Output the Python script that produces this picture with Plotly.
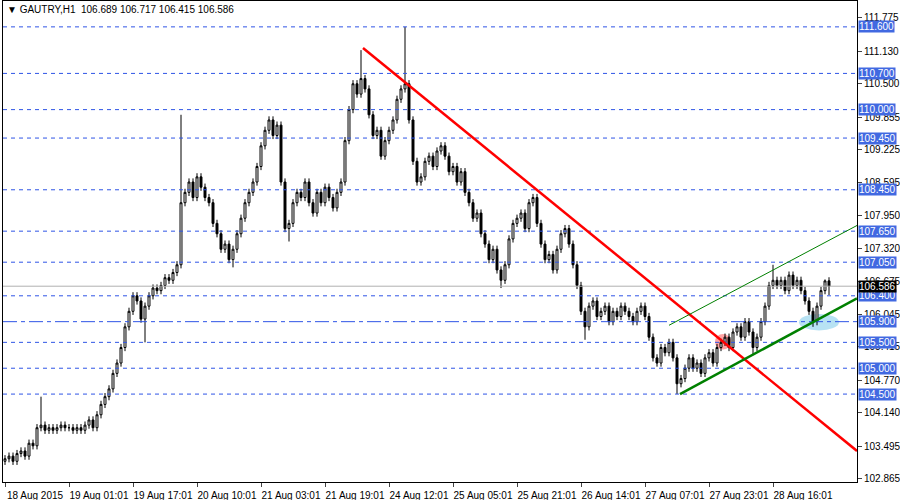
import plotly.graph_objects as go

# hourly closes, GAUTRY H1
closes = [
    103.25, 103.30, 103.20, 103.35, 103.40, 103.30, 103.55, 103.50, 103.85,
    103.90, 103.80, 103.85, 103.80, 103.85, 103.90, 103.85, 103.85, 103.80, 103.85, 103.80, 103.90, 104.00, 103.85, 104.10,
    104.30, 104.45, 104.60, 104.90, 105.10, 105.40, 105.80, 106.10, 106.40, 106.30, 105.95, 106.20,
    106.40, 106.55, 106.50, 106.60, 106.75, 106.70, 106.85, 107.00,
    108.20, 108.40, 108.60, 108.30,
    108.70, 108.50, 108.30, 108.20, 107.80, 107.60, 107.30, 107.40, 107.10, 107.30,
    107.60, 107.90, 108.20, 108.40, 108.60, 108.90, 109.30, 109.60, 109.80, 109.50, 109.70,
    108.60, 107.70, 107.80, 108.20,
    108.40, 108.30, 108.60, 108.20, 108.00, 108.40, 108.20, 108.50, 108.30, 108.10, 108.40, 108.60,
    109.40, 110.00, 110.50, 110.30, 110.60, 110.40,
    109.90, 109.50, 109.60, 109.10, 109.40, 109.60, 109.80,
    110.20, 110.40, 110.50, 109.80,
    109.00, 108.60, 108.70, 109.00, 109.10, 108.90,
    109.20, 109.30, 109.10, 108.80, 108.90, 108.60,
    108.80, 108.40, 108.20, 107.90, 108.00, 107.60, 107.40, 107.10, 107.30, 106.90, 106.70,
    107.00, 107.50, 107.80, 107.90, 108.00, 107.70, 108.20, 108.30,
    107.80, 107.40, 107.10, 107.20, 106.90, 107.30, 107.60, 107.70,
    107.40, 107.00, 106.60, 106.10, 105.80,
    106.20, 106.30, 106.00, 106.10, 106.20, 105.90, 106.10, 106.00, 106.20, 106.10, 106.00, 105.90, 106.10, 106.20, 106.00,
    105.60, 105.20, 105.10, 105.40, 105.30,
    105.50, 105.20, 104.70, 104.80, 105.00,
    105.20, 105.00, 105.10, 104.90, 105.20, 105.30, 105.10, 105.40,
    105.50, 105.60, 105.40, 105.70, 105.80, 105.60, 105.90, 105.70,
    105.40, 105.60, 105.90, 106.20, 106.60, 106.70,
    106.60, 106.70, 106.50, 106.80, 106.60, 106.70, 106.50,
    106.30, 106.10, 105.90, 106.20,
    106.50, 106.689, 106.586,
]
first_open = 103.20
# wick spikes that stand out: index -> high / low
spike_highs = {9: 104.45, 44: 109.90, 89: 111.15, 100: 111.60, 192: 107.00, 205: 106.717}
spike_lows = {35: 105.50, 57: 106.95, 71: 107.45, 124: 106.55, 145: 105.55, 168: 104.50, 187: 105.25, 202: 105.80, 206: 106.415}

time_labels = ["18 Aug 2015", "19 Aug 01:01", "19 Aug 17:01", "20 Aug 10:01", "21 Aug 03:01",
               "21 Aug 19:01", "24 Aug 12:01", "25 Aug 05:01", "25 Aug 21:01", "26 Aug 14:01",
               "27 Aug 07:01", "27 Aug 23:01", "28 Aug 16:01"]
price_ticks = [111.775, 111.130, 110.500, 109.855, 109.225, 108.595, 107.950, 107.320,
               106.675, 106.045, 105.415, 104.770, 104.140, 103.495, 102.865]
levels = [111.6, 110.7, 110.0, 109.45, 108.45, 107.65, 107.05, 106.4, 105.9, 105.5, 105.0, 104.5]
last_price = 106.586

# drawn objects: (x0, y0, x1, y1) in bar index / price
red_line = (89.5, 111.19, 213, 103.40)
green_thick = (168.75, 104.50, 213, 106.35)
green_thin = (166, 105.83, 213, 107.76)

opens = [first_open] + closes[:-1]
highs, lows = [], []
for i, (o, c) in enumerate(zip(opens, closes)):
    highs.append(spike_highs.get(i, max(o, c) + 0.07))
    lows.append(spike_lows.get(i, min(o, c) - 0.07))
xs = list(range(len(closes)))

fig = go.Figure(go.Candlestick(
    x=xs, open=opens, high=highs, low=lows, close=closes,
    increasing=dict(line=dict(color="black", width=1), fillcolor="white"),
    decreasing=dict(line=dict(color="black", width=1), fillcolor="black"),
    whiskerwidth=0, showlegend=False, hoverinfo="skip",
))

for lv in levels:
    fig.add_hline(y=lv, line=dict(color="#2f55e6", width=1,
                                  dash="14px,4px,4px,4px" if lv == 105.9 else "4px,4px"))
    fig.add_annotation(x=1, xref="paper", y=lv, yref="y", xanchor="left", text=f"{lv:.3f}",
                       showarrow=False, bgcolor="#4169e1", font=dict(color="white", size=10),
                       borderpad=0, xshift=1)
fig.add_hline(y=last_price, line=dict(color="#b0b0b0", width=1))
fig.add_annotation(x=1, xref="paper", y=last_price, yref="y", xanchor="left", text=f"{last_price:.3f}",
                   showarrow=False, bgcolor="black", font=dict(color="white", size=10), borderpad=0, xshift=1)

for (x0, y0, x1, y1), col, w in [(red_line, "red", 2.5), (green_thick, "green", 2.5), (green_thin, "green", 1)]:
    fig.add_shape(type="line", x0=x0, y0=y0, x1=x1, y1=y1, line=dict(color=col, width=w))
fig.add_shape(type="circle", x0=198.5, x1=208.5, y0=105.73, y1=106.05,
              fillcolor="rgba(135,206,235,0.6)", line_width=0, layer="below")
fig.add_shape(type="circle", x0=177.5, x1=181.5, y0=105.36, y1=105.66,
              fillcolor="rgba(255,90,90,0.55)", line_width=0, layer="below")

fig.add_annotation(x=0, xref="paper", y=1, yref="paper", xanchor="left", yanchor="top",
                   text="▼ GAUTRY,H1  106.689 106.717 106.415 106.586", showarrow=False,
                   font=dict(size=10, color="black"), xshift=2, yshift=-1)

fig.update_layout(
    width=900, height=500, margin=dict(l=3, r=43, t=1, b=18, autoexpand=False),
    paper_bgcolor="white", plot_bgcolor="white",
    font=dict(family="Liberation Sans", size=10, color="black"),
    xaxis=dict(range=[-0.5, 213], rangeslider=dict(visible=False), showgrid=False,
               tickvals=[i * 16 for i in range(len(time_labels))], ticktext=time_labels,
               tickangle=0, automargin=False, ticklabelshift=30, ticklabelstandoff=0,
               ticks="outside", ticklen=4, showline=True, linecolor="black", mirror=True,
               tickfont=dict(size=10)),
    yaxis=dict(range=[102.80, 112.10], side="right", showgrid=False, tickvals=price_ticks,
               ticktext=[f"{t:.3f}" for t in price_ticks], ticks="outside", ticklen=4,
               automargin=False,
               showline=True, linecolor="black", mirror=True, tickfont=dict(size=10)),
)

fig.write_html("out.html", config={"displayModeBar": False},
               post_script="document.body.style.margin='0';")
